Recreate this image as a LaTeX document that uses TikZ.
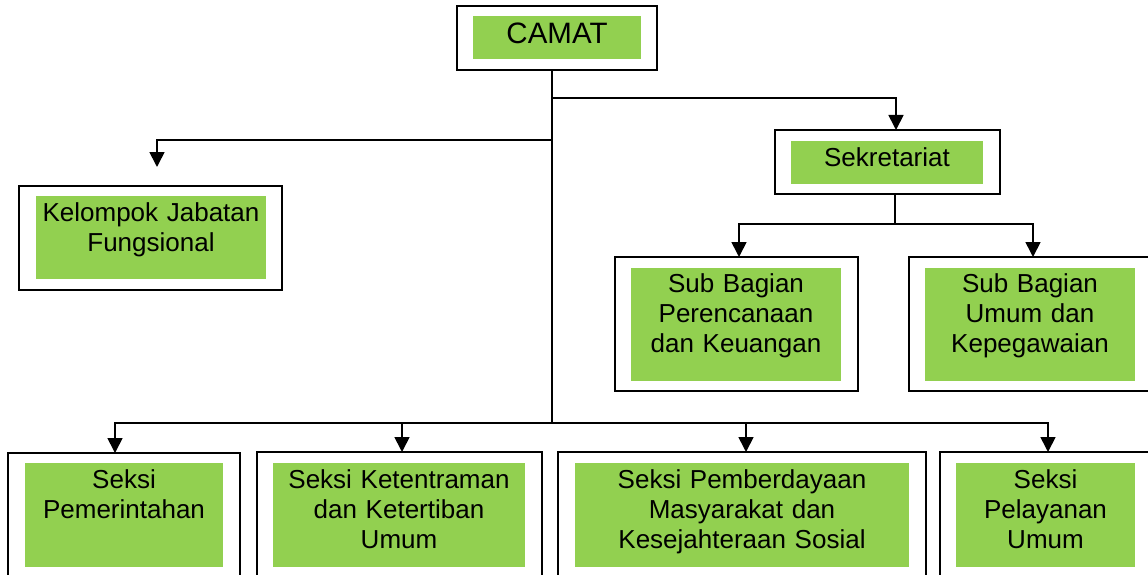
\documentclass[tikz,border=0pt]{standalone}
\usepackage{fontspec}
\setmainfont{Liberation Sans}
\usetikzlibrary{arrows.meta}
\definecolor{hijau}{HTML}{92D050}
\tikzset{
	kotak/.style={draw, line width=2pt, anchor=north west, inner sep=0pt, outer sep=0pt},
	isi/.style={fill=hijau, anchor=north west, inner sep=0pt, outer sep=0pt, align=center, text height=25pt, font=\fontsize{26}{30}\selectfont},
	garis/.style={line width=1.7pt},
	panah/.style={line width=1.7pt, -{Triangle[width=15pt,length=15pt]}}
}
\begin{document}
\begin{tikzpicture}[x=1pt,y=-1pt]
			\clip (0,0) rectangle (1148,575);
			% kotak luar
			\node[kotak, minimum width=200pt, minimum height=64pt] (camat) at (457,6) {};
			\node[kotak, minimum width=225pt, minimum height=64pt] (sekre) at (775,130) {};
			\node[kotak, minimum width=263pt, minimum height=104pt] (kjf) at (19,186) {};
			\node[kotak, minimum width=243pt, minimum height=134pt] (subpk) at (615,257) {};
			\node[kotak, minimum width=242pt, minimum height=134pt] (subuk) at (909,257) {};
			\node[kotak, minimum width=232pt, minimum height=126pt] (spem) at (8,453) {};
			\node[kotak, minimum width=285pt, minimum height=126pt] (strantib) at (257,452) {};
			\node[kotak, minimum width=368pt, minimum height=126pt] (spmks) at (558,452) {};
			\node[kotak, minimum width=211pt, minimum height=126pt] (spu) at (940,452) {};
			% kotak hijau
			\node[isi, text width=168pt, text height=28pt, text depth=15pt, font=\fontsize{29.5}{34}\selectfont] (camat-t) at (473,16) {CAMAT};
			\node[isi, text width=192pt, text depth=18pt] (sekre-t) at (791,141) {Sekretariat};
			\node[isi, text width=230pt, text depth=58pt] (kjf-t) at (36,196) {Kelompok Jabatan\\Fungsional};
			\node[isi, text width=210pt, text height=24pt, text depth=89pt] (subpk-t) at (631,268) {Sub Bagian\\Perencanaan\\dan Keuangan};
			\node[isi, text width=210pt, text height=24pt, text depth=89pt] (subuk-t) at (925,268) {Sub Bagian\\Umum dan\\Kepegawaian};
			\node[isi, text width=198pt, text depth=79pt] (spem-t) at (25,463) {Seksi\\Pemerintahan};
			\node[isi, text width=252pt, text depth=79pt] (strantib-t) at (273,463) {Seksi Ketentraman\\dan Ketertiban\\Umum};
			\node[isi, text width=334pt, text depth=79pt] (spmks-t) at (575,463) {Seksi Pemberdayaan\\Masyarakat dan\\Kesejahteraan Sosial};
			\node[isi, text width=179pt, text depth=79pt] (spu-t) at (956,463) {Seksi\\Pelayanan\\Umum};
			% titik cabang
			\coordinate (cs) at (552,98);
			\coordinate (ck) at (552,140);
			\coordinate (cb) at (552,423);
			\coordinate (csub) at (895,224);
			\coordinate (ujungkjf) at (157,167);
			% garis
			\draw[garis] (cb |- camat.south) -- (cb);
			\draw[panah] (cs) -| ([xshift=8.5pt]sekre.north);
			\draw[panah] (ck) -| (ujungkjf);
			\draw[garis] (csub |- sekre.south) -- (csub);
			\draw[panah] (csub) -| ([xshift=2.5pt]subpk.north);
			\draw[panah] (csub) -| ([xshift=3pt]subuk.north);
			\draw[panah] (cb) -| ([xshift=-9pt]spem.north);
			\draw[panah] (cb) -| ([xshift=2.5pt]strantib.north);
			\draw[panah] (cb) -| ([xshift=4pt]spmks.north);
			\draw[panah] (cb) -| ([xshift=2.5pt]spu.north);
\end{tikzpicture}
\end{document}
